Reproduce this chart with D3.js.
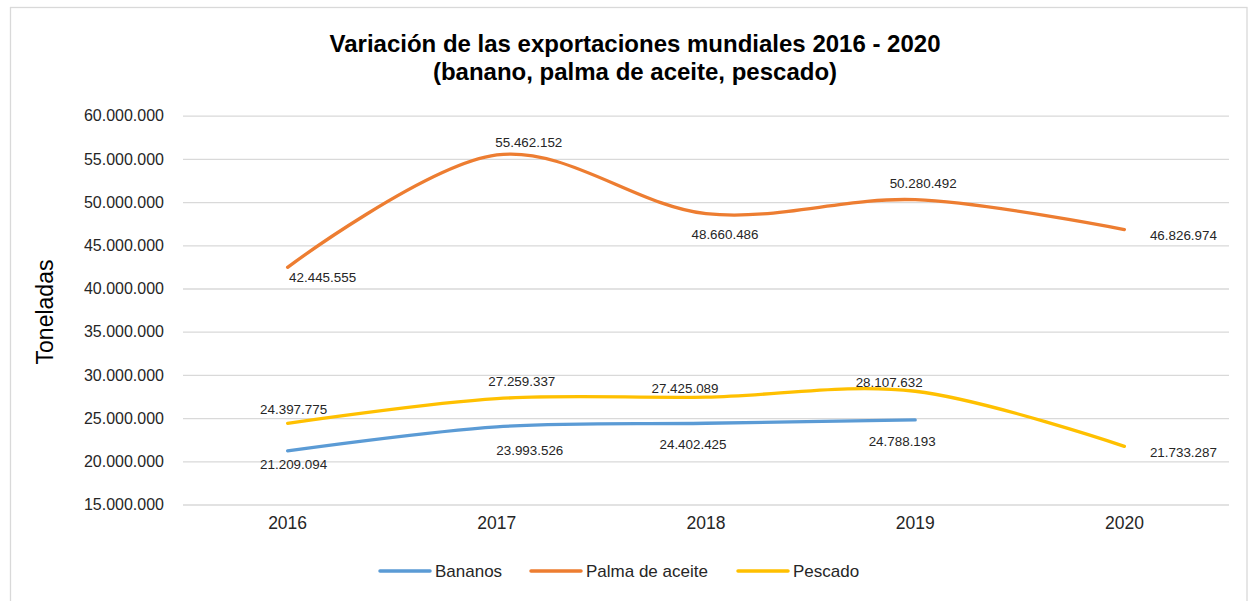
<!DOCTYPE html>
<html>
<head>
<meta charset="utf-8">
<script src="https://cdn.jsdelivr.net/npm/d3@7"></script>
<style>
  html, body { margin: 0; padding: 0; background: #fff; }
  svg { display: block; font-family: "Liberation Sans", Arial, sans-serif; }
</style>
</head>
<body>
<svg id="chart" width="1251" height="601"></svg>
<script>
// Annual world exports, tonnes
const years = ["2016", "2017", "2018", "2019", "2020"];
const bananos = [21209094, 23993526, 24402425, 24788193, null];
const palma = [42445555, 55462152, 48660486, 50280492, 46826974];
const pescado = [24397775, 27259337, 27425089, 28107632, 21733287];
const seriesNames = ["Bananos", "Palma de aceite", "Pescado"];
const yTicks = [15000000, 20000000, 25000000, 30000000, 35000000, 40000000, 45000000, 50000000, 55000000, 60000000];

const colors = { "Bananos": "#5B9BD5", "Palma de aceite": "#ED7D31", "Pescado": "#FFC000" };

// label offsets from each point (px), one row per series
const labelOffsets = {
  "Bananos":         [[6, 14], [33, 24], [-13, 21], [-13, 22], null],
  "Palma de aceite": [[35, 10], [32, -12], [19, 21], [8, -16], [59, 6]],
  "Pescado":         [[6, -14], [25, -17], [-21, -9], [-26, -9], [59, 6]]
};

const svg = d3.select("#chart");
const W = 1251, H = 601;
const margin = { left: 183, right: 22, top: 115.7, bottom: 96.5 };
const plotW = W - margin.left - margin.right;

// chart frame
svg.append("rect")
  .attr("x", 10.5).attr("y", 7.5)
  .attr("width", 1236.5).attr("height", 620)
  .attr("fill", "#fff").attr("stroke", "#d9d9d9").attr("stroke-width", 1.3);

const x = d3.scaleBand().domain(years).range([margin.left, margin.left + plotW]);
const y = d3.scaleLinear().domain([15000000, 60000000]).range([504.5, 115.7]);
const cx = d => x(d) + x.bandwidth() / 2;

const fmt = v => d3.format(",")(v).replace(/,/g, ".");

// gridlines
svg.append("g")
  .attr("transform", `translate(${margin.left},0)`)
  .call(d3.axisLeft(y).tickValues(yTicks).tickSize(-plotW).tickFormat(""))
  .call(g => g.select(".domain").remove())
  .call(g => g.selectAll("line").attr("stroke", "#d9d9d9").attr("stroke-width", 1.3));

// y tick labels
svg.append("g")
  .attr("transform", `translate(${margin.left},0)`)
  .call(d3.axisLeft(y).tickValues(yTicks).tickSize(0).tickPadding(19).tickFormat(fmt))
  .call(g => g.select(".domain").remove())
  .call(g => g.selectAll("text").attr("fill", "#262626")
    .style("font-size", "16px").style("font-family", "Liberation Sans, Arial, sans-serif"));

// x labels
svg.append("g")
  .attr("transform", `translate(0,504.5)`)
  .call(d3.axisBottom(x).tickSize(0).tickPadding(12))
  .call(g => g.select(".domain").remove())
  .call(g => g.selectAll("text").attr("fill", "#262626")
    .style("font-size", "17.5px").style("font-family", "Liberation Sans, Arial, sans-serif"));

// title
const title = svg.append("text")
  .attr("x", 635).attr("text-anchor", "middle")
  .attr("font-weight", "bold").attr("font-size", "24px").attr("fill", "#000");
title.append("tspan").attr("x", 635).attr("y", 52).text("Variación de las exportaciones mundiales 2016 - 2020");
title.append("tspan").attr("x", 635).attr("y", 80).text("(banano, palma de aceite, pescado)");

// y axis title
svg.append("text")
  .attr("transform", "translate(53,312) rotate(-90)")
  .attr("text-anchor", "middle")
  .attr("font-size", "23px").attr("fill", "#000")
  .text("Toneladas");

// lines
const seriesData = {
  "Bananos": bananos,
  "Palma de aceite": palma,
  "Pescado": pescado
};

const line = d3.line()
  .defined(d => d.v != null)
  .x(d => cx(d.year))
  .y(d => y(d.v))
  .curve(d3.curveCardinal.tension(0));

seriesNames.forEach(name => {
  const pts = years.map((yr, i) => ({ year: yr, v: seriesData[name][i] }));
  svg.append("path")
    .datum(pts.filter(d => d.v != null))
    .attr("d", line)
    .attr("fill", "none")
    .attr("stroke", colors[name])
    .attr("stroke-width", 3.3)
    .attr("stroke-linecap", "round")
    .attr("stroke-linejoin", "round");
});

// data labels
seriesNames.forEach(name => {
  const vals = seriesData[name];
  years.forEach((yr, i) => {
    if (vals[i] == null) return;
    const off = labelOffsets[name][i];
    svg.append("text")
      .attr("x", cx(yr) + off[0])
      .attr("y", y(vals[i]) + off[1])
      .attr("text-anchor", "middle")
      .attr("dominant-baseline", "central")
      .attr("font-size", "13.4px")
      .attr("fill", "#262626")
      .text(fmt(vals[i]));
  });
});

// legend
const legendX = [380, 531, 738];
const legend = svg.append("g");
seriesNames.forEach((name, i) => {
  legend.append("line")
    .attr("x1", legendX[i]).attr("x2", legendX[i] + 50)
    .attr("y1", 571).attr("y2", 571)
    .attr("stroke", colors[name]).attr("stroke-width", 3.5)
    .attr("stroke-linecap", "round");
  legend.append("text")
    .attr("x", legendX[i] + 55).attr("y", 577)
    .attr("font-size", "17px").attr("fill", "#262626")
    .text(name);
});
</script>
</body>
</html>
